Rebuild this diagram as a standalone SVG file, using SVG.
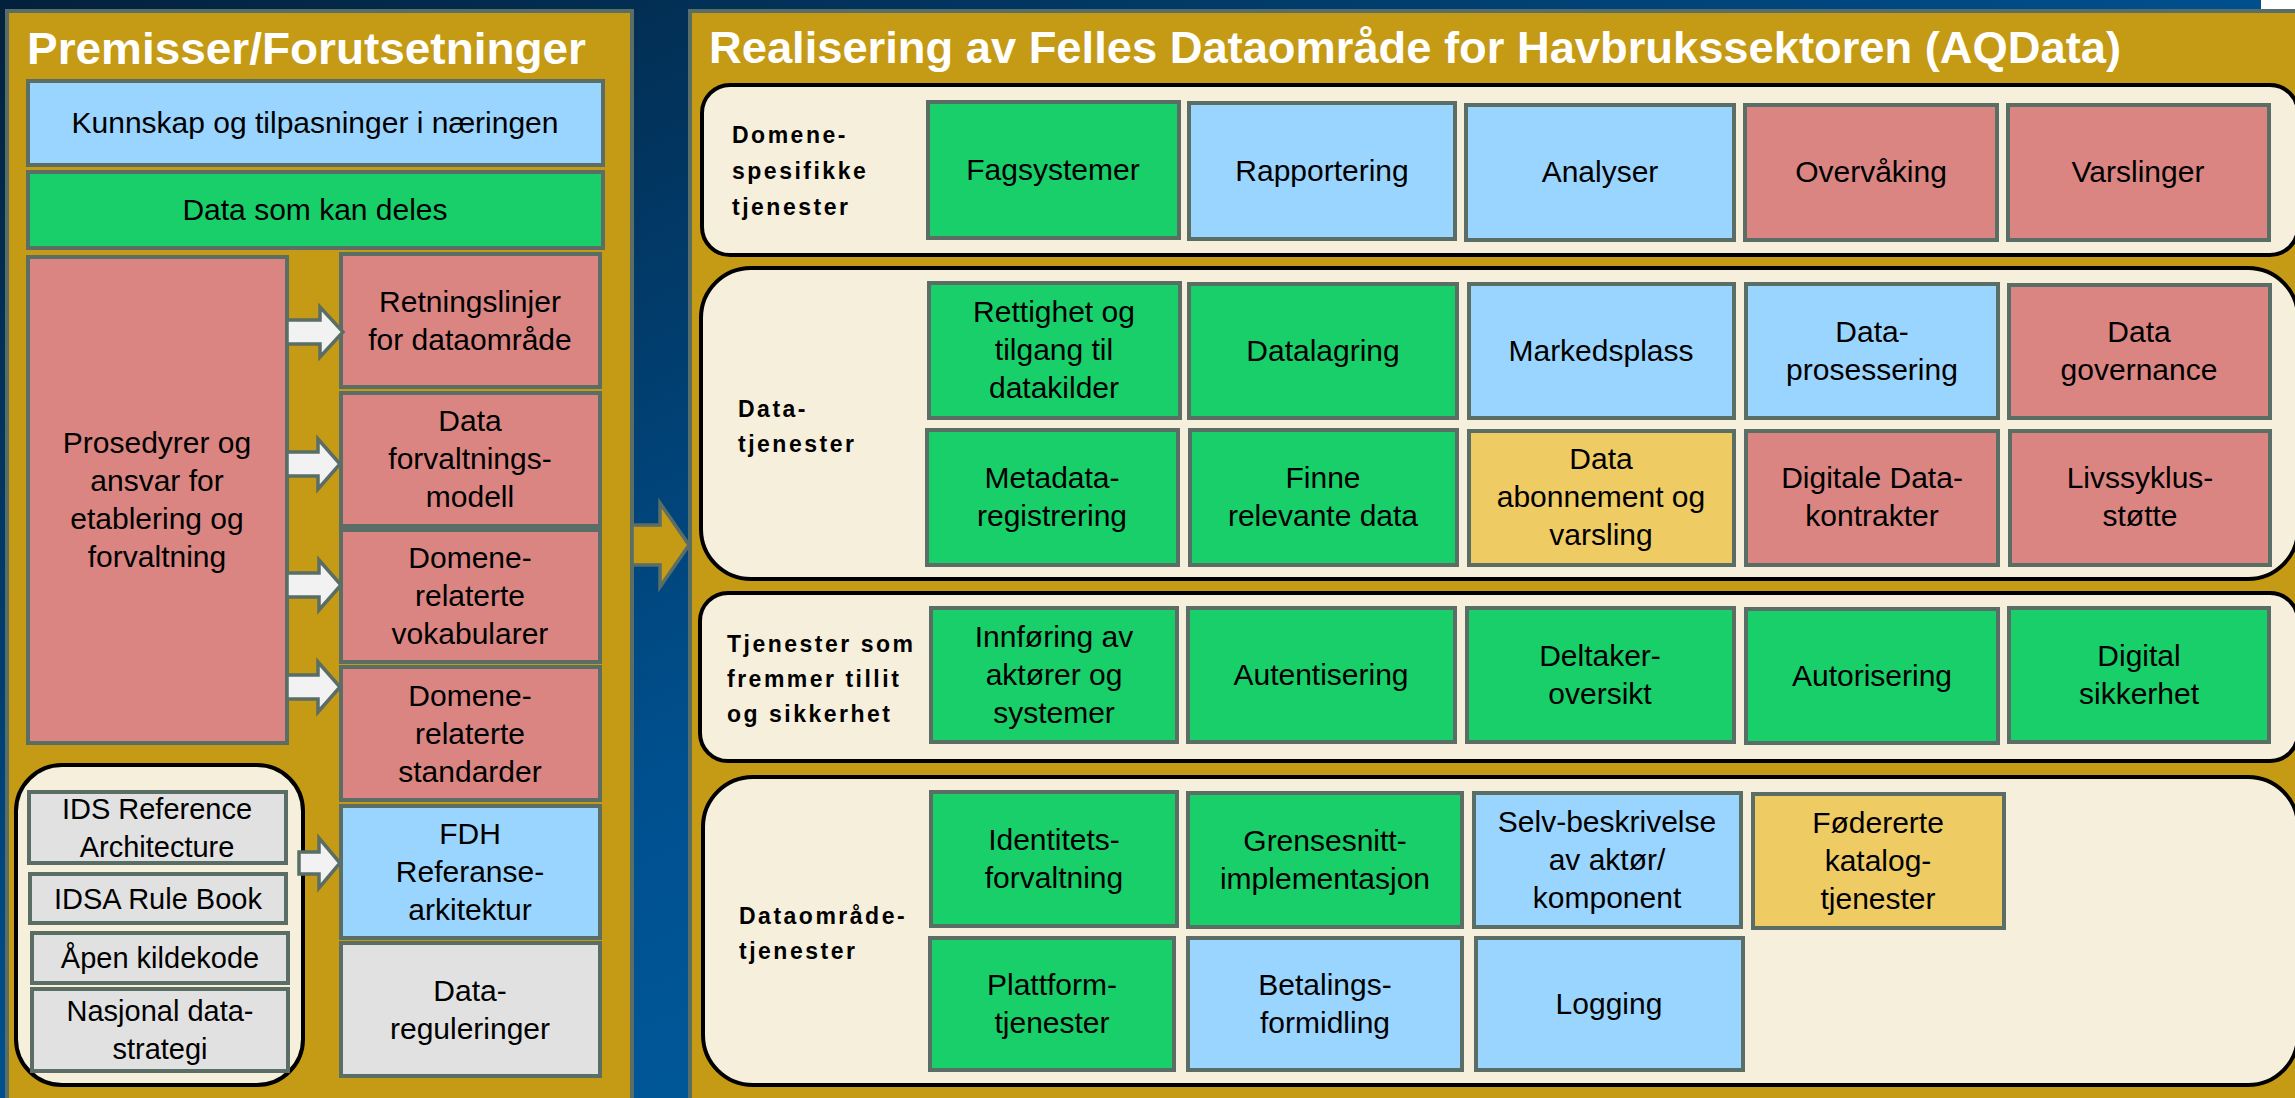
<svg xmlns="http://www.w3.org/2000/svg" width="2295" height="1098" viewBox="0 0 2295 1098">
<defs>
<linearGradient id="bg" x1="0" y1="0" x2="1" y2="1">
<stop offset="0" stop-color="#03213c"/>
<stop offset="0.5" stop-color="#00508f"/>
<stop offset="1" stop-color="#0068ad"/>
</linearGradient>
<style>
.panel{fill:#c59a14;stroke:#5a6e66;stroke-width:4}
.group{fill:#f6efdc;stroke:#000;stroke-width:4}
.box{stroke:#5a6e66;stroke-width:4}
.blue{fill:#9ad5ff}
.green{fill:#18cf6a}
.pink{fill:#da8582}
.yellow{fill:#eecb63}
.gray{fill:#e1e1e1}
.t{font-family:"Liberation Sans",Arial,sans-serif;font-size:30px;fill:#000;text-anchor:middle}
.gt{font-family:"Liberation Sans",Arial,sans-serif;font-size:29px;fill:#000;text-anchor:middle}
.lbl{font-family:"Liberation Sans",Arial,sans-serif;font-size:23px;font-weight:bold;fill:#000;letter-spacing:2.5px}
.title{font-family:"Liberation Sans",Arial,sans-serif;font-size:45px;font-weight:bold;fill:#fff}
.warrow{fill:#f2f2f2;stroke:#5a6e66;stroke-width:3.5}
.garrow{fill:#c59a14;stroke:#5a6e66;stroke-width:3.5}
</style>
</defs>
<rect x="0" y="0" width="2295" height="1098" fill="url(#bg)"/>
<rect x="2261" y="0" width="34" height="9" fill="#ffffff"/>

<!-- Left panel -->
<g id="panel-premisser">
<rect class="panel" x="7" y="11" width="625" height="1100"/>
<text class="title" x="27" y="64" textLength="559" lengthAdjust="spacingAndGlyphs">Premisser/Forutsetninger</text>
</g>

<!-- Right panel -->
<g id="panel-realisering">
<rect class="panel" x="690" y="11" width="1620" height="1100"/>
<text class="title" x="709" y="63" textLength="1412" lengthAdjust="spacingAndGlyphs">Realisering av Felles Dataområde for Havbrukssektoren (AQData)</text>
</g>

<!-- Left nodes -->
<g id="kunnskap"><rect class="box blue" x="28" y="81" width="575" height="84"/><text class="t" x="315" y="133">Kunnskap og tilpasninger i næringen</text></g>
<g id="data-som-kan-deles"><rect class="box green" x="28" y="172" width="575" height="76"/><text class="t" x="315" y="220">Data som kan deles</text></g>
<g id="prosedyrer"><rect class="box pink" x="28" y="257" width="259" height="486"/>
<text class="t" x="157" y="453">Prosedyrer og</text><text class="t" x="157" y="491">ansvar for</text><text class="t" x="157" y="529">etablering og</text><text class="t" x="157" y="567">forvaltning</text></g>
<g id="retningslinjer"><rect class="box pink" x="341" y="254" width="259" height="133"/>
<text class="t" x="470" y="312">Retningslinjer</text><text class="t" x="470" y="350">for dataområde</text></g>
<g id="dataforvaltningsmodell"><rect class="box pink" x="341" y="393" width="259" height="133"/>
<text class="t" x="470" y="431">Data</text><text class="t" x="470" y="469">forvaltnings-</text><text class="t" x="470" y="507">modell</text></g>
<g id="vokabularer"><rect class="box pink" x="341" y="530" width="259" height="132"/>
<text class="t" x="470" y="568">Domene-</text><text class="t" x="470" y="606">relaterte</text><text class="t" x="470" y="644">vokabularer</text></g>
<g id="standarder"><rect class="box pink" x="341" y="667" width="259" height="133"/>
<text class="t" x="470" y="706">Domene-</text><text class="t" x="470" y="744">relaterte</text><text class="t" x="470" y="782">standarder</text></g>
<g id="fdh"><rect class="box blue" x="341" y="806" width="259" height="132"/>
<text class="t" x="470" y="844">FDH</text><text class="t" x="470" y="882">Referanse-</text><text class="t" x="470" y="920">arkitektur</text></g>
<g id="datareguleringer"><rect class="box gray" x="341" y="943" width="259" height="133"/>
<text class="t" x="470" y="1001">Data-</text><text class="t" x="470" y="1039">reguleringer</text></g>

<g id="ids-gruppe">
<rect class="group" x="16" y="765" width="287" height="320" rx="46" ry="46"/>
</g>
<g id="ids-reference"><rect class="box gray" x="29" y="792" width="257" height="71"/>
<text class="gt" x="157" y="819">IDS Reference</text><text class="gt" x="157" y="857">Architecture</text></g>
<g id="idsa-rule-book"><rect class="box gray" x="30" y="874" width="256" height="49"/>
<text class="gt" x="158" y="909">IDSA Rule Book</text></g>
<g id="apen-kildekode"><rect class="box gray" x="32" y="933" width="256" height="50"/>
<text class="gt" x="160" y="968">Åpen kildekode</text></g>
<g id="nasjonal-datastrategi"><rect class="box gray" x="32" y="989" width="256" height="82"/>
<text class="gt" x="160" y="1021">Nasjonal data-</text><text class="gt" x="160" y="1059">strategi</text></g>

<!-- Right groups -->
<g id="domenespesifikke">
<rect class="group" x="702" y="85" width="1596" height="170" rx="28" ry="28"/>
<text class="lbl" x="732" y="143">Domene-</text><text class="lbl" x="732" y="179">spesifikke</text><text class="lbl" x="732" y="215">tjenester</text>
</g>
<g id="datatjenester">
<rect class="group" x="701" y="268" width="1597" height="311" rx="50" ry="50"/>
<text class="lbl" x="738" y="417">Data-</text><text class="lbl" x="738" y="452">tjenester</text>
</g>
<g id="tillit">
<rect class="group" x="700" y="593" width="1598" height="168" rx="28" ry="28"/>
<text class="lbl" x="727" y="652">Tjenester som</text><text class="lbl" x="727" y="687">fremmer tillit</text><text class="lbl" x="727" y="722">og sikkerhet</text>
</g>
<g id="dataomradetjenester">
<rect class="group" x="703" y="777" width="1595" height="308" rx="50" ry="50"/>
<text class="lbl" x="739" y="924">Dataområde-</text><text class="lbl" x="739" y="959">tjenester</text>
</g>

<!-- Row 1 -->
<g id="fagsystemer"><rect class="box green" x="928" y="102" width="251" height="136"/><text class="t" x="1053" y="180">Fagsystemer</text></g>
<g id="rapportering"><rect class="box blue" x="1189" y="103" width="266" height="136"/><text class="t" x="1322" y="181">Rapportering</text></g>
<g id="analyser"><rect class="box blue" x="1466" y="105" width="268" height="135"/><text class="t" x="1600" y="182">Analyser</text></g>
<g id="overvaking"><rect class="box pink" x="1745" y="105" width="252" height="135"/><text class="t" x="1871" y="182">Overvåking</text></g>
<g id="varslinger"><rect class="box pink" x="2008" y="105" width="261" height="135"/><text class="t" x="2138" y="182">Varslinger</text></g>

<!-- Row 2a -->
<g id="rettighet"><rect class="box green" x="929" y="283" width="251" height="135"/>
<text class="t" x="1054" y="322">Rettighet og</text><text class="t" x="1054" y="360">tilgang til</text><text class="t" x="1054" y="398">datakilder</text></g>
<g id="datalagring"><rect class="box green" x="1189" y="284" width="268" height="134"/><text class="t" x="1323" y="361">Datalagring</text></g>
<g id="markedsplass"><rect class="box blue" x="1469" y="284" width="265" height="134"/><text class="t" x="1601" y="361">Markedsplass</text></g>
<g id="dataprosessering"><rect class="box blue" x="1746" y="284" width="252" height="134"/>
<text class="t" x="1872" y="342">Data-</text><text class="t" x="1872" y="380">prosessering</text></g>
<g id="datagovernance"><rect class="box pink" x="2009" y="285" width="261" height="133"/>
<text class="t" x="2139" y="342">Data</text><text class="t" x="2139" y="380">governance</text></g>

<!-- Row 2b -->
<g id="metadata"><rect class="box green" x="927" y="430" width="251" height="135"/>
<text class="t" x="1052" y="488">Metadata-</text><text class="t" x="1052" y="526">registrering</text></g>
<g id="finne"><rect class="box green" x="1190" y="430" width="267" height="135"/>
<text class="t" x="1323" y="488">Finne</text><text class="t" x="1323" y="526">relevante data</text></g>
<g id="abonnement"><rect class="box yellow" x="1469" y="431" width="265" height="134"/>
<text class="t" x="1601" y="469">Data</text><text class="t" x="1601" y="507">abonnement og</text><text class="t" x="1601" y="545">varsling</text></g>
<g id="datakontrakter"><rect class="box pink" x="1746" y="431" width="252" height="134"/>
<text class="t" x="1872" y="488">Digitale Data-</text><text class="t" x="1872" y="526">kontrakter</text></g>
<g id="livssyklus"><rect class="box pink" x="2010" y="431" width="260" height="134"/>
<text class="t" x="2140" y="488">Livssyklus-</text><text class="t" x="2140" y="526">støtte</text></g>

<!-- Row 3 -->
<g id="innforing"><rect class="box green" x="931" y="608" width="246" height="134"/>
<text class="t" x="1054" y="647">Innføring av</text><text class="t" x="1054" y="685">aktører og</text><text class="t" x="1054" y="723">systemer</text></g>
<g id="autentisering"><rect class="box green" x="1188" y="608" width="267" height="134"/><text class="t" x="1321" y="685">Autentisering</text></g>
<g id="deltakeroversikt"><rect class="box green" x="1467" y="608" width="267" height="134"/>
<text class="t" x="1600" y="666">Deltaker-</text><text class="t" x="1600" y="704">oversikt</text></g>
<g id="autorisering"><rect class="box green" x="1746" y="609" width="252" height="134"/><text class="t" x="1872" y="686">Autorisering</text></g>
<g id="digitalsikkerhet"><rect class="box green" x="2009" y="608" width="260" height="134"/>
<text class="t" x="2139" y="666">Digital</text><text class="t" x="2139" y="704">sikkerhet</text></g>

<!-- Row 4a -->
<g id="identitet"><rect class="box green" x="931" y="792" width="246" height="134"/>
<text class="t" x="1054" y="850">Identitets-</text><text class="t" x="1054" y="888">forvaltning</text></g>
<g id="grensesnitt"><rect class="box green" x="1188" y="793" width="274" height="134"/>
<text class="t" x="1325" y="851">Grensesnitt-</text><text class="t" x="1325" y="889">implementasjon</text></g>
<g id="selvbeskrivelse"><rect class="box blue" x="1474" y="793" width="267" height="134"/>
<text class="t" x="1607" y="832">Selv-beskrivelse</text><text class="t" x="1607" y="870">av aktør/</text><text class="t" x="1607" y="908">komponent</text></g>
<g id="fodererte"><rect class="box yellow" x="1753" y="794" width="251" height="134"/>
<text class="t" x="1878" y="833">Fødererte</text><text class="t" x="1878" y="871">katalog-</text><text class="t" x="1878" y="909">tjenester</text></g>

<!-- Row 4b -->
<g id="plattform"><rect class="box green" x="930" y="938" width="244" height="132"/>
<text class="t" x="1052" y="995">Plattform-</text><text class="t" x="1052" y="1033">tjenester</text></g>
<g id="betaling"><rect class="box blue" x="1188" y="938" width="274" height="132"/>
<text class="t" x="1325" y="995">Betalings-</text><text class="t" x="1325" y="1033">formidling</text></g>
<g id="logging"><rect class="box blue" x="1476" y="938" width="267" height="132"/><text class="t" x="1609" y="1014">Logging</text></g>

<!-- Connectors -->
<g id="connectors">
<path class="warrow" d="M287,320 H320 V307 L343,332 L320,357 V344 H287 Z"/>
<path class="warrow" d="M287,452 H318 V439 L340,464 L318,489 V476 H287 Z"/>
<path class="warrow" d="M287,573 H319 V560 L341,585 L319,610 V597 H287 Z"/>
<path class="warrow" d="M287,675 H318 V662 L340,687 L318,712 V699 H287 Z"/>
<path class="warrow" d="M299,852 H319 V838 L340,863 L319,888 V874 H299 Z"/>
<path class="garrow" d="M632,525 H660 V503 L689,545 L660,587 V565 H632 Z"/>
</g>
</svg>
